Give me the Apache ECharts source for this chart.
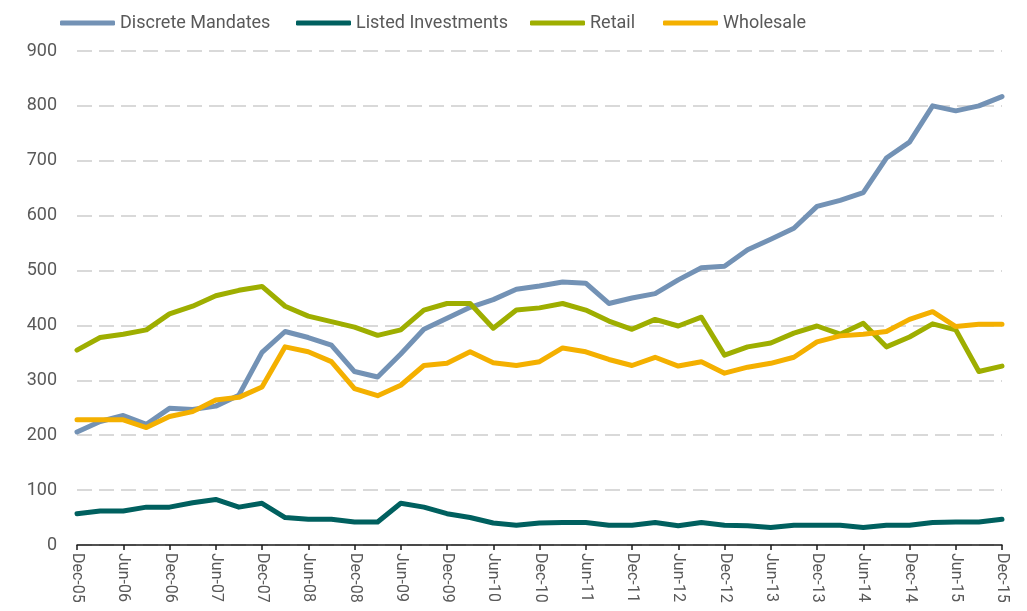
<!DOCTYPE html>
<html>
<head>
<meta charset="utf-8">
<script src="https://cdn.jsdelivr.net/npm/echarts@6/dist/echarts.min.js"></script>
<style>
html,body{margin:0;padding:0;background:#fff;}
#chart{width:1027px;height:611px;}
</style>
</head>
<body>
<div id="chart"></div>
<script>
var categories = ['Dec-05','Mar-06','Jun-06','Sep-06','Dec-06','Mar-07','Jun-07','Sep-07','Dec-07','Mar-08','Jun-08','Sep-08','Dec-08','Mar-09','Jun-09','Sep-09','Dec-09','Mar-10','Jun-10','Sep-10','Dec-10','Mar-11','Jun-11','Sep-11','Dec-11','Mar-12','Jun-12','Sep-12','Dec-12','Mar-13','Jun-13','Sep-13','Dec-13','Mar-14','Jun-14','Sep-14','Dec-14','Mar-15','Jun-15','Sep-15','Dec-15'];
var discreteMandates = [206,225,236,220,249,247,253,273,351,389,378,364,316,306,348,393,413,433,447,466,472,479,477,440,450,458,483,505,508,538,557,577,617,628,642,705,734,800,791,800,817];
var listedInvestments = [57,62,62,69,69,77,83,69,76,50,47,47,42,42,76,69,57,50,40,36,40,41,41,36,36,41,35,41,36,35,32,36,36,36,32,36,36,41,42,42,47];
var retail = [355,378,384,392,421,435,454,464,471,435,417,407,397,382,392,428,440,440,395,428,432,440,428,408,393,411,399,415,346,361,368,386,399,384,404,361,379,403,392,316,326];
var wholesale = [228,228,228,214,234,243,264,269,288,361,352,334,285,272,291,327,331,352,332,327,334,359,352,338,327,342,326,334,313,324,331,342,370,381,384,389,411,425,398,402,402];
var yTicks = [0,100,200,300,400,500,600,700,800,900];

var FONT = "Roboto, sans-serif";
var TXT = '#595959';
var names = ['Discrete Mandates','Listed Investments','Retail','Wholesale'];
var colors = ['#7392b5','#00605f','#9eae00','#f4b000'];
var datas = [discreteMandates, listedInvestments, retail, wholesale];
var legendLeft = [60, 296, 530, 663];

var chart = echarts.init(document.getElementById('chart'), null, {renderer:'canvas'});
chart.setOption({
  animation:false,
  backgroundColor:'#fff',
  color: colors,
  legend: names.map(function(n,i){
    return {
      left:legendLeft[i], top:14, padding:0,
      itemWidth:55, itemHeight:5,
      icon:'roundRect',
      textStyle:{fontFamily:FONT, fontSize:18, color:TXT},
      data:[n]
    };
  }),
  grid:{left:77, right:25, top:51, bottom:66, containLabel:false},
  xAxis:{
    type:'category',
    data:categories,
    boundaryGap:false,
    axisLine:{lineStyle:{color:'#1a1a1a', width:1.5}},
    axisTick:{show:true, interval:1, length:5, lineStyle:{color:'#1a1a1a', width:1.5}},
    axisLabel:{interval:1, rotate:-90, fontFamily:FONT, fontSize:16, color:TXT, margin:8},
    splitLine:{show:false}
  },
  yAxis:{
    type:'value',
    min:0, max:900, interval:100,
    axisLine:{show:false},
    axisTick:{show:false},
    axisLabel:{fontFamily:FONT, fontSize:18, color:TXT, margin:20,
      formatter:function(v){return yTicks.indexOf(v)>=0 ? String(v) : '';}},
    splitLine:{show:true, lineStyle:{color:'#d9d9d9', width:2, type:[15,7]}}
  },
  series: names.map(function(n,i){
    return {
      name:n, type:'line', data:datas[i],
      symbol:'none', smooth:false,
      lineStyle:{width:5, color:colors[i], join:'round', cap:'round'},
      itemStyle:{color:colors[i]},
      z: i===0?2:(i===1?2:(i===2?3:4))
    };
  })
});
</script>
</body>
</html>
